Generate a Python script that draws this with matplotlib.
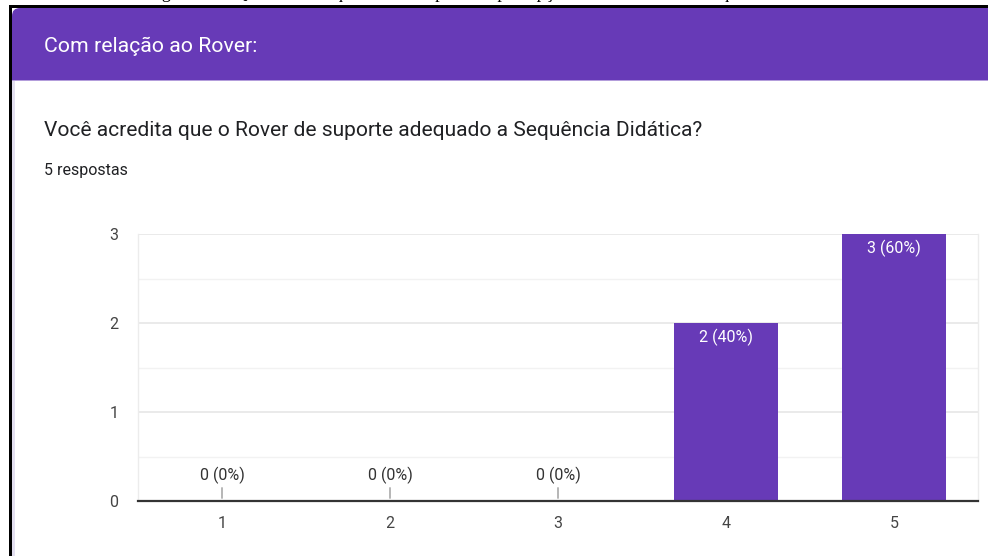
import matplotlib
matplotlib.use("Agg")
import matplotlib.pyplot as plt
import matplotlib.patches as mpatches
from matplotlib.transforms import IdentityTransform
import numpy as np

W, H = 988, 556

categories = ["1", "2", "3", "4", "5"]
counts = [0, 0, 0, 2, 3]
total_responses = 5

header_title = "Com relação ao Rover:"
question = "Você acredita que o Rover de suporte adequado a Sequência Didática?"
responses_label = f"{total_responses} respostas"
caption = "Figura 14 – Questão 4 do questionário aplicado: percepção sobre o Rover na Sequência Didática"

purple = "#673ab7"

plt.rcParams["font.family"] = ["Roboto", "DejaVu Sans"]

fig = plt.figure(figsize=(W / 100, H / 100), dpi=100)
fig.patch.set_facecolor("white")


def fx(x):
    return x / W


def fy(y):
    return 1 - y / H


# cropped caption from the page above the screenshot
fig.text(fx(494), fy(-2), caption, ha="center", va="baseline",
         family=["Liberation Serif", "DejaVu Serif"], fontsize=13, color="black")

# black frame of the screenshot
fig.add_artist(mpatches.Rectangle((fx(9), fy(8)), 1, 3 / H, transform=fig.transFigure,
                                  facecolor="black", edgecolor="none"))
fig.add_artist(mpatches.Rectangle((fx(9), 0), 3 / W, fy(5), transform=fig.transFigure,
                                  facecolor="black", edgecolor="none"))

# purple header (pixel coords, y from bottom), only top-left corner rounded
hdr = mpatches.FancyBboxPatch((12, H - 80), W + 20, 72, boxstyle="round,pad=0,rounding_size=8",
                              transform=IdentityTransform(), facecolor=purple, edgecolor="none")
fig.add_artist(hdr)
fig.add_artist(mpatches.Rectangle((12, H - 80), W, 40, transform=IdentityTransform(),
                                  facecolor=purple, edgecolor="none"))
fig.add_artist(mpatches.Rectangle((12, H - 81), W, 1.5, transform=IdentityTransform(),
                                  facecolor="#b39ddb", edgecolor="none"))
# thin lavender left edge of the card body
fig.add_artist(mpatches.Rectangle((12, 0), 2.5, H - 81, transform=IdentityTransform(),
                                  facecolor="#e3dff0", edgecolor="none"))

fig.text(fx(44), fy(46), header_title, ha="left", va="center", fontsize=15.3, color="white")
fig.text(fx(44), fy(130), question, ha="left", va="center", fontsize=15.1, color="#202124")
fig.text(fx(44), fy(170), responses_label, ha="left", va="center", fontsize=11.5, color="#202124")

# chart
ax = fig.add_axes([fx(138), fy(501), (978 - 138) / W, (501 - 234) / H])
x = np.arange(len(categories))
bars = ax.bar(x, counts, width=0.62, color=purple, zorder=3)

ax.set_xlim(-0.5, len(categories) - 0.5)
ax.set_ylim(0, 3)
ax.set_yticks([0, 1, 2, 3])
ax.set_yticks([0.5, 1.5, 2.5], minor=True)
ax.set_xticks(x)
ax.set_xticklabels(categories)
ax.grid(axis="y", which="major", color="#e6e6e6", linewidth=1.2, zorder=0)
ax.grid(axis="y", which="minor", color="#f2f2f2", linewidth=1.0, zorder=0)
ax.tick_params(axis="both", which="both", length=0, labelsize=11.5, labelcolor="#444444")
ax.tick_params(axis="y", pad=14)
ax.tick_params(axis="x", pad=11)
for side in ["left", "right", "top"]:
    ax.spines[side].set_color("#ececec")
    ax.spines[side].set_linewidth(1.0)
ax.spines["top"].set_visible(False)
ax.spines["bottom"].set_color("#333333")
ax.spines["bottom"].set_linewidth(1.6)
ax.spines["bottom"].set_zorder(4)

for xi, c in zip(x, counts):
    label = f"{c} ({round(100 * c / total_responses)}%)"
    if c > 0:
        ax.annotate(label, (xi, c), xytext=(0, -4), textcoords="offset points",
                    ha="center", va="top", fontsize=11.5, color="white", zorder=5)
    else:
        ax.annotate("", (xi, 0), xytext=(xi, 0.18),
                    arrowprops=dict(arrowstyle="-", color="#999999", lw=1.0), zorder=4)
        ax.annotate(label, (xi, 0.18), xytext=(0, 1), textcoords="offset points",
                    ha="center", va="bottom", fontsize=11.5, color="#333333", zorder=5)

fig.savefig("out.png", dpi=100)
